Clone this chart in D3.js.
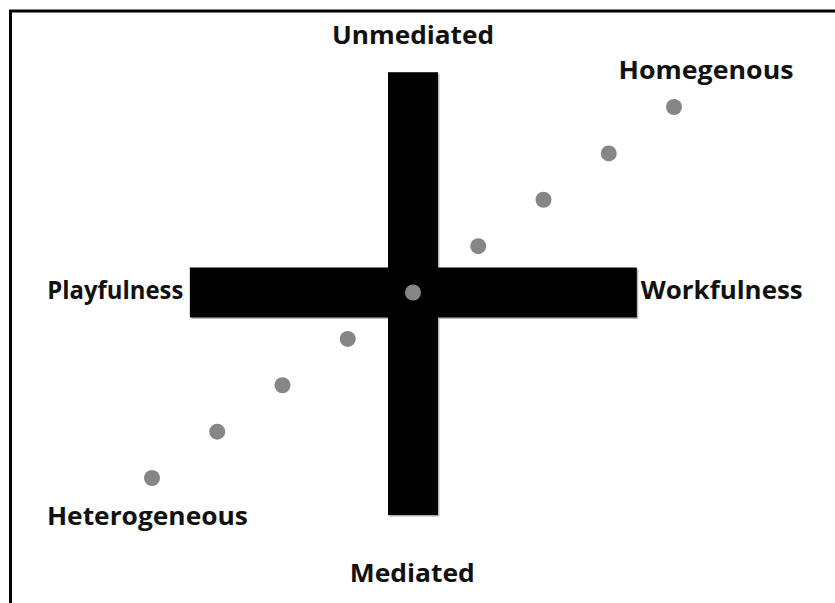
<!DOCTYPE html>
<html>
<head>
<meta charset="utf-8">
<script src="https://cdn.jsdelivr.net/npm/d3@7"></script>
<style>
  html, body { margin: 0; padding: 0; background: #fff; }
  svg text { font-family: "Open Sans", "DejaVu Sans", sans-serif; font-weight: bold; fill: #111; }
</style>
</head>
<body>
<div id="chart"></div>
<script>
	'use strict';

	// diagonal of dots, in step units from the centre of the cross
	var dotSteps = [-4, -3, -2, -1, 0, 1, 2, 3, 4];

	// arms of the cross, in the same units
	var hArm = [-3.42, 3.43];
	var vArm = [-4.8, 4.75];

	// pole labels: text, anchor point (step units), text-anchor, target width
	var poleNames = ["Unmediated", "Mediated", "Playfulness", "Workfulness", "Homegenous", "Heterogeneous"];
	var poleX = [0, -0.01, -3.52, 3.49, 3.15, -5.61];
	var poleY = [5.36, -6.25, -0.14, -0.14, 4.6, -5.02];
	var poleAnchor = ["middle", "middle", "end", "start", "start", "start"];
	var poleWidth = [162, 125, 136, 162, 175, 201];

	var W = 835, H = 603;

	var svg = d3.select("#chart").append("svg")
		.attr("width", W)
		.attr("height", H);

	var x = d3.scaleLinear().domain([-4, 4]).range([152, 674]);
	var y = d3.scaleLinear().domain([-4, 4]).range([478, 107]);

	//frame (only the top and left edges show in the crop)
	svg.append("path")
		.attr("d", "M10.5," + H + "V11H" + W)
		.attr("fill", "none")
		.attr("stroke", "#000")
		.attr("stroke-width", 3);

	var barThick = 50;
	var cross = svg.append("g");

	//faint shadow under the arms
	cross.append("rect")
		.attr("x", x(hArm[0]) + 1.5).attr("y", y(0) - barThick / 2 + 1.5)
		.attr("width", x(hArm[1]) - x(hArm[0])).attr("height", barThick)
		.attr("fill", "#bbb");
	cross.append("rect")
		.attr("x", x(0) - barThick / 2 + 1.5).attr("y", y(vArm[1]) + 1.5)
		.attr("width", barThick).attr("height", y(vArm[0]) - y(vArm[1]))
		.attr("fill", "#bbb");

	cross.append("rect")
		.attr("x", x(hArm[0])).attr("y", y(0) - barThick / 2)
		.attr("width", x(hArm[1]) - x(hArm[0])).attr("height", barThick)
		.attr("fill", "#000");
	cross.append("rect")
		.attr("x", x(0) - barThick / 2).attr("y", y(vArm[1]))
		.attr("width", barThick).attr("height", y(vArm[0]) - y(vArm[1]))
		.attr("fill", "#000");

	svg.append("g").selectAll("circle")
		.data(dotSteps)
		.join("circle")
		.attr("cx", function(d) { return x(d); })
		.attr("cy", function(d) { return y(d); })
		.attr("r", 8)
		.attr("fill", "#868686");

	svg.append("g").selectAll("text")
		.data(poleNames)
		.join("text")
		.attr("x", function(d, i) { return x(poleX[i]); })
		.attr("y", function(d, i) { return y(poleY[i]); })
		.attr("text-anchor", function(d, i) { return poleAnchor[i]; })
		.attr("font-size", 25)
		.attr("textLength", function(d, i) { return poleWidth[i]; })
		.attr("lengthAdjust", "spacingAndGlyphs")
		.text(function(d) { return d; });
</script>
</body>
</html>
